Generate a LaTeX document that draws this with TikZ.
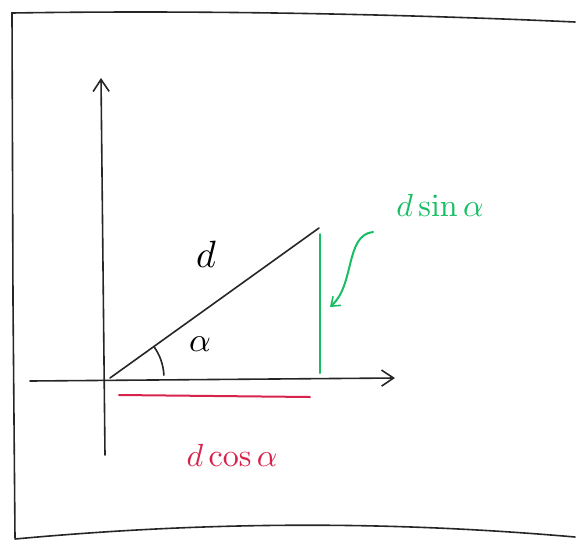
\documentclass[tikz,border=0pt]{standalone}
\usepackage{graphicx}
\usetikzlibrary{arrows.meta}
\definecolor{sketchgreen}{RGB}{25,190,100}
\definecolor{sketchred}{RGB}{215,35,75}
\tikzset{
  ink/.style={line width=1.6pt, line cap=round, black!85},
  axis/.style={ink, -{Straight Barb[length=12pt,width=16pt,line width=1.6pt]}},
  greenline/.style={line width=2pt, line cap=round, sketchgreen},
  redline/.style={line width=2pt, line cap=round, sketchred},
  lab/.style={inner sep=0pt},
}
\begin{document}
\begin{tikzpicture}[x=1pt,y=-1pt]
\useasboundingbox (0,0) rectangle (584,542);
% frame
\draw[ink] (575,22) .. controls (400,14) and (200,10) .. (12,13) -- (13,300) -- (15,538);
\draw[ink] (15,539) .. controls (200,522) and (380,520) .. (575,537);
% axes
\coordinate (ybot) at (105,455);
\coordinate (ytop) at (101,78);
\coordinate (xleft) at (30,381);
\coordinate (xright) at (395,378);
\draw[axis] (ybot) -- (ytop);
\draw[axis] (xleft) -- (xright);
% hypotenuse
\coordinate (A) at (110,378);
\coordinate (P) at (319,228);
\draw[ink] (A) -- (P);
% angle arc
\draw[ink] (A) ++(-35:54) arc[start angle=-35, end angle=-3, radius=54];
\node[lab] (alpha) at (200,344) {\scalebox{3.4}{$\alpha$}};
\node[lab] (dlab) at (206,254) {\scalebox{3.8}{$d$}};
% green vertical
\coordinate (g1) at (320,234);
\coordinate (g2) at (320,373);
\draw[greenline] (g1) -- (g2);
\node[lab, text=sketchgreen] (sinlab) at (440,205) {\scalebox{3.2}{$d\sin\alpha$}};
\coordinate (gs) at (373,232);
\coordinate (ge) at (330,307);
\draw[greenline, -{Straight Barb[length=8pt,width=12pt,line width=1.6pt]}] (gs) .. controls (345,235) and (355,285) .. (ge);
% red
\coordinate (r1) at (119,395);
\coordinate (r2) at (310,397);
\draw[redline] (r1) -- (r2);
\node[lab, text=sketchred] (coslab) at (232,455) {\scalebox{3.2}{$d\cos\alpha$}};
\end{tikzpicture}
\end{document}
